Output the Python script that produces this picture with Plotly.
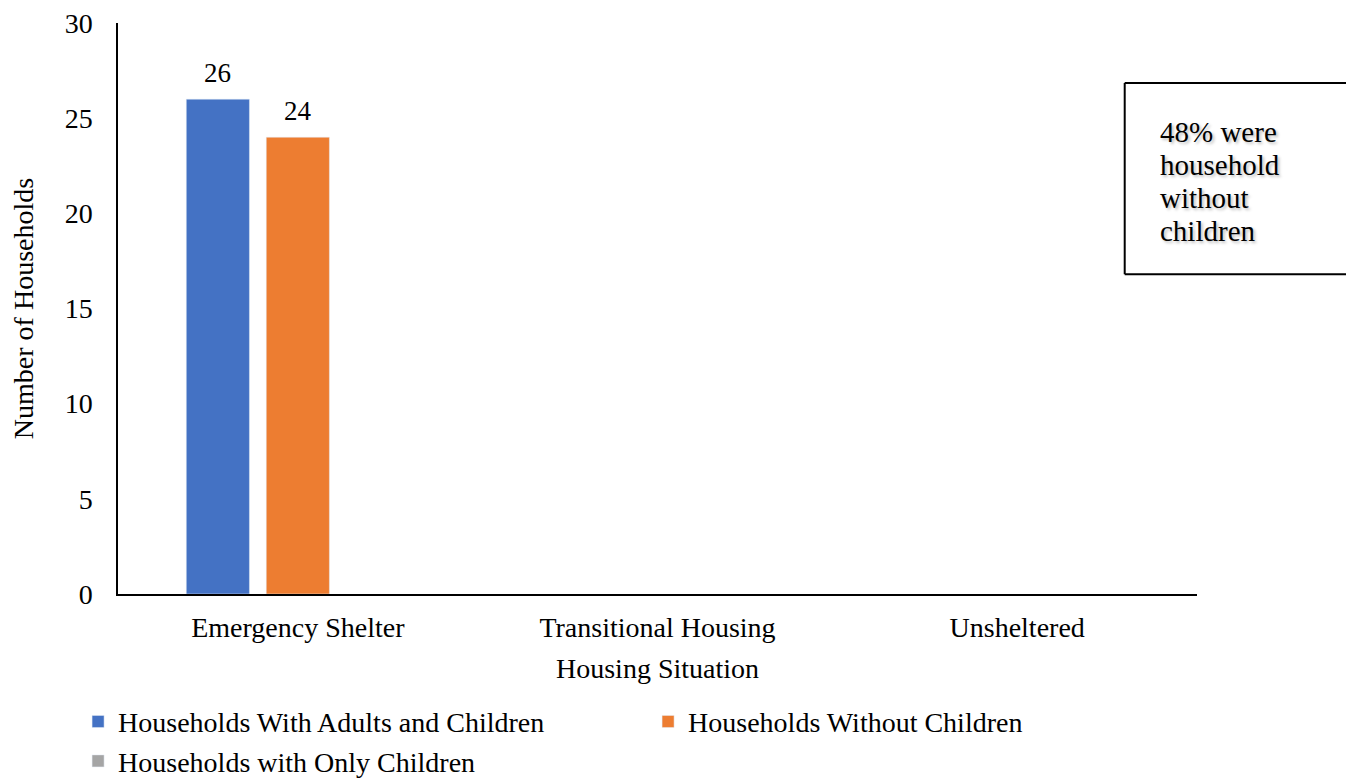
import plotly.graph_objects as go

# Housing situation categories and household counts
situations = ["Emergency Shelter", "Transitional Housing", "Unsheltered"]
adults_children = [26, None, None]
without_children = [24, None, None]
only_children = [None, None, None]
note_lines = ["48% were", "household", "without", "children"]

serif = "Liberation Serif, Times New Roman, serif"

fig = go.Figure()

fig.add_trace(go.Bar(
    x=situations, y=adults_children,
    name="Households With Adults and Children",
    marker=dict(color="#4472C4")
))
fig.add_trace(go.Bar(
    x=situations, y=without_children,
    name="Households Without Children",
    marker=dict(color="#ED7D31")
))
fig.add_trace(go.Bar(
    x=situations, y=only_children,
    name="Households with Only Children",
    marker=dict(color="#A5A5A5"),
    showlegend=True
))

# page body adds an 8px margin, so the figure is 8px smaller
fig.update_layout(
    width=1346, height=770,
    margin=dict(l=110, r=157, t=15, b=184, autoexpand=False),
    paper_bgcolor="white", plot_bgcolor="white",
    font=dict(family=serif, size=28, color="#000"),
    barmode="group", bargap=0.333, bargroupgap=0.21,
    legend=dict(
        orientation="h", x=-0.037, y=-0.18, xanchor="left", yanchor="top",
        entrywidth=525, entrywidthmode="pixels", itemwidth=30,
        traceorder="normal", font=dict(size=28),
        itemclick=False
    ),
    xaxis=dict(
        title=dict(text="Housing Situation", standoff=16, font=dict(size=28)),
        showline=True, linecolor="#000", linewidth=1.5,
        showgrid=False, ticks="", ticklabelstandoff=8
    ),
    yaxis=dict(
        title=dict(text="Number of Households", standoff=35, font=dict(size=28)),
        range=[0, 30], dtick=5, ticklabeloverflow="allow",
        showline=True, linecolor="#000", linewidth=1.5,
        showgrid=False, zeroline=False, ticks="", ticklabelstandoff=18
    )
)

# value labels above the bars (offset matches the grouped bar slots)
for vals, dx in [(adults_children, -0.223), (without_children, 0.0)]:
    for i, v in enumerate(vals):
        if v is not None:
            fig.add_annotation(
                x=i + dx, y=v, xref="x", yref="y", text=str(v),
                showarrow=False, yanchor="bottom", yshift=9,
                font=dict(family=serif, size=27, color="#000")
            )

# Note box on the right (its right side runs off the page)
box_x0, box_x1, box_y0, box_y1 = 0.933, 1.3, 0.560, 0.895
for seg in [(box_x0, box_y0, box_x1, box_y0),
            (box_x0, box_y1, box_x1, box_y1),
            (box_x0, box_y0, box_x0, box_y1)]:
    fig.add_shape(
        type="line", xref="paper", yref="paper",
        x0=seg[0], y0=seg[1], x1=seg[2], y1=seg[3],
        line=dict(color="#000", width=2), layer="above"
    )
for k, line in enumerate(note_lines):
    fig.add_annotation(
        xref="paper", yref="paper", x=0.964, y=0.809 - k * 0.0578,
        xanchor="left", yanchor="middle", align="left",
        text=line, showarrow=False,
        font=dict(family=serif, size=29, color="#000",
                  shadow="2px 2px 3px rgba(0,0,0,0.25)")
    )

fig.write_html("out.html")
